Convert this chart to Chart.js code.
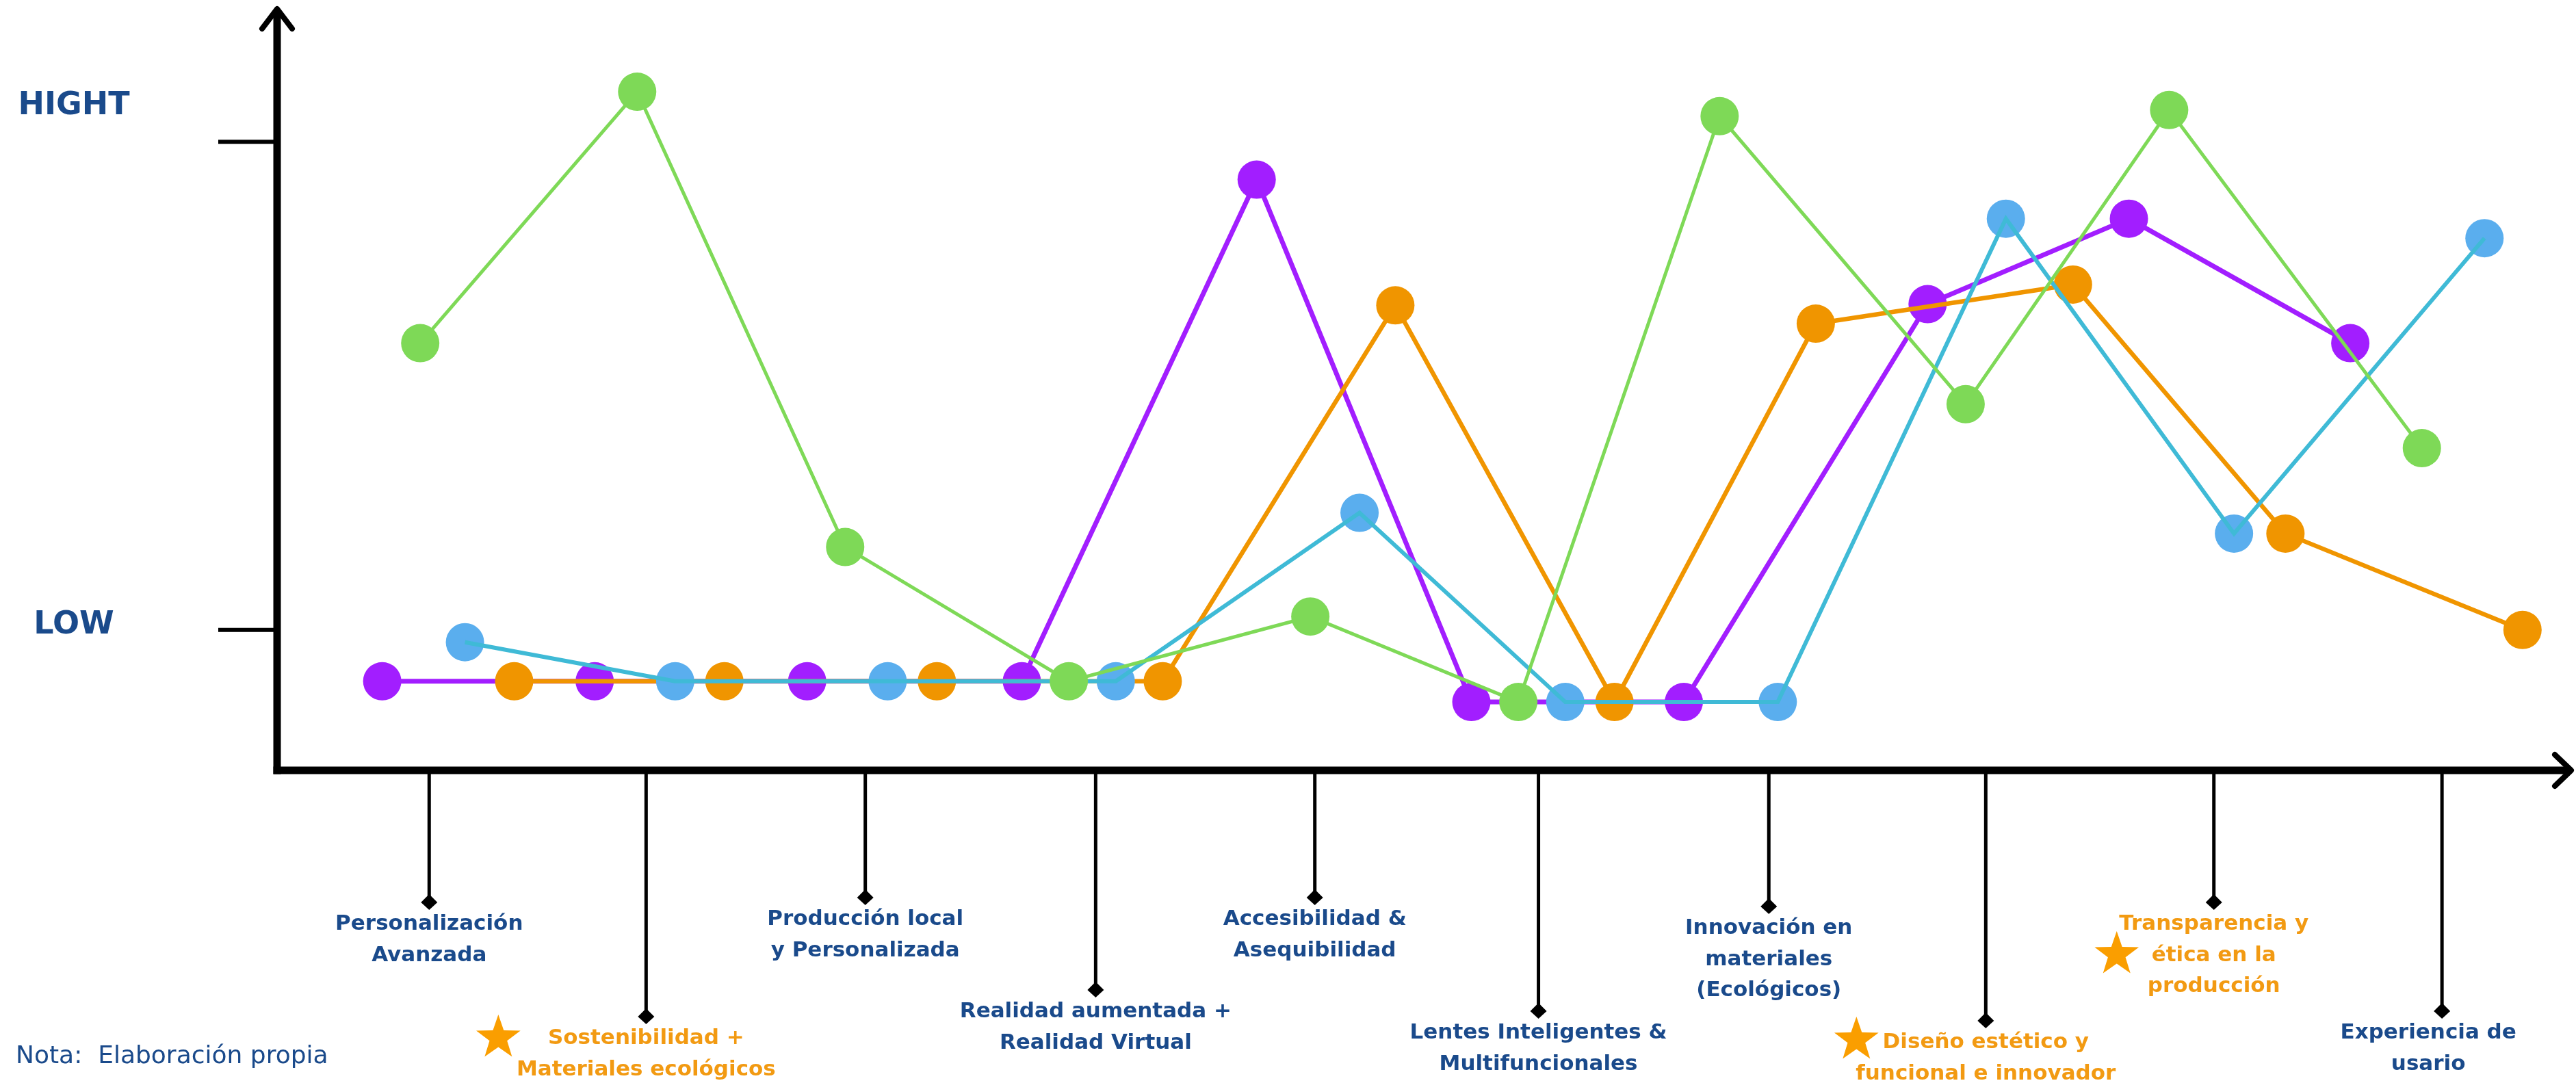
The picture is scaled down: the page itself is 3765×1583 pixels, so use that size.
<!DOCTYPE html>
<html lang="es">
<head>
<meta charset="utf-8">
<script src="https://cdn.jsdelivr.net/npm/chart.js@4.4.1/dist/chart.umd.min.js"></script>
<style>
  html, body { margin: 0; padding: 0; background: #ffffff; }
  #wrap { width: 3765px; height: 1583px; }
</style>
</head>
<body>
<div id="wrap"><canvas id="chart" width="3765" height="1583"></canvas></div>
<script>
// ---- Data -------------------------------------------------------------
const categories = [
  ['Personalización', 'Avanzada'],
  ['Sostenibilidad +', 'Materiales ecológicos'],
  ['Producción local', 'y Personalizada'],
  ['Realidad aumentada +', 'Realidad Virtual'],
  ['Accesibilidad &', 'Asequibilidad'],
  ['Lentes Inteligentes &', 'Multifuncionales'],
  ['Innovación en', 'materiales', '(Ecológicos)'],
  ['Diseño estético y', 'funcional e innovador'],
  ['Transparencia y', 'ética en la', 'producción'],
  ['Experiencia de', 'usario']
];
// position of each category on the x axis
const categoryX = [1.03, 2.00, 2.98, 4.01, 4.99, 5.99, 7.02, 7.99, 9.01, 10.03];
// categories marked with a star
const starred = [1, 7, 8];

const yTickValues = [1, 5];
const yTickLabels = ['LOW', 'HIGHT'];

const greenX  = [0.99, 1.96, 2.89, 3.89, 4.97, 5.90, 6.80, 7.90, 8.81, 9.94];
const greenY  = [3.35, 5.41, 1.68, 0.58, 1.11, 0.41, 5.21, 2.85, 5.26, 2.49];

const purpleX = [0.82, 1.77, 2.72, 3.68, 4.73, 5.69, 6.64, 7.73, 8.63, 9.62];
const purpleY = [0.58, 0.58, 0.58, 0.58, 4.69, 0.41, 0.41, 3.67, 4.37, 3.35];

const orangeX = [1.41, 2.35, 3.30, 4.31, 5.35, 6.33, 7.23, 8.38, 9.33, 10.39];
const orangeY = [0.58, 0.58, 0.58, 0.58, 3.66, 0.41, 3.51, 3.83, 1.79, 1.00];

const blueX   = [1.19, 2.13, 3.08, 4.10, 5.19, 6.11, 7.06, 8.08, 9.10, 10.22];
const blueY   = [0.90, 0.58, 0.58, 0.58, 1.96, 0.41, 0.41, 4.37, 1.79, 4.21];

// ---- Look & layout ------------------------------------------------------
const INK = '#000000';
const LABEL_BLUE = '#1a4a8b';
const LABEL_ORANGE = '#f29a12';
const STAR_ORANGE = '#fa9e00';

// stem depth below the x axis (px) for each category label
const stemDepth = [204, 371, 197, 332, 197, 363, 210, 377, 204, 363];
// horizontal nudge of a label block relative to its stem
const labelShift = [0, 0, 0, 0, 0, 0, 0, 0, 0, -20];
// star centre relative to stem x and first text baseline
const starOffset = { 1: [-216, -9], 7: [-189, -12], 8: [-142, 36] };
// vertical nudge of the y-axis words relative to their tick
const yLabelNudge = [5, -40];

const pts = (xs, ys) => xs.map((x, i) => ({ x: x, y: ys[i] }));

function drawStar(ctx, cx, cy, R, r) {
  ctx.beginPath();
  for (let i = 0; i < 10; i++) {
    const rad = i % 2 === 0 ? R : r;
    const a = -Math.PI / 2 + i * Math.PI / 5;
    const px = cx + rad * Math.cos(a);
    const py = cy + rad * Math.sin(a);
    if (i === 0) ctx.moveTo(px, py); else ctx.lineTo(px, py);
  }
  ctx.closePath();
  ctx.fill();
}

// Axes with arrows, y ticks with words, and hanging category labels
const axisDecor = {
  id: 'axisDecor',
  beforeDatasetsDraw(chart) {
    const { ctx, chartArea: a, scales: { x, y } } = chart;
    const x0 = a.left, y0 = a.bottom;
    ctx.save();
    ctx.strokeStyle = INK;
    ctx.fillStyle = INK;

    // main axis lines
    ctx.lineCap = 'butt';
    ctx.lineWidth = 11;
    ctx.beginPath();
    ctx.moveTo(x0, y0 + 5.5);
    ctx.lineTo(x0, a.top + 4);
    ctx.stroke();
    ctx.beginPath();
    ctx.moveTo(x0 - 5.5, y0);
    ctx.lineTo(a.right - 4, y0);
    ctx.stroke();

    // arrow heads
    ctx.lineWidth = 8;
    ctx.lineCap = 'round';
    ctx.lineJoin = 'round';
    ctx.beginPath();
    ctx.moveTo(x0 - 22, a.top + 31);
    ctx.lineTo(x0, a.top + 2);
    ctx.lineTo(x0 + 22, a.top + 31);
    ctx.stroke();
    ctx.beginPath();
    ctx.moveTo(a.right - 28, y0 - 23);
    ctx.lineTo(a.right - 4, y0);
    ctx.lineTo(a.right - 28, y0 + 23);
    ctx.stroke();

    // y ticks and their words
    ctx.lineCap = 'butt';
    ctx.lineWidth = 6;
    ctx.font = 'bold 46px "DejaVu Sans"';
    ctx.textAlign = 'center';
    ctx.textBaseline = 'alphabetic';
    yTickValues.forEach((v, i) => {
      const py = y.getPixelForValue(v);
      ctx.strokeStyle = INK;
      ctx.beginPath();
      ctx.moveTo(x0 - 86, py);
      ctx.lineTo(x0, py);
      ctx.stroke();
      ctx.fillStyle = LABEL_BLUE;
      ctx.fillText(yTickLabels[i], 108, py + yLabelNudge[i]);
    });

    // category stems, diamonds, labels and stars
    categories.forEach((lines, i) => {
      const px = x.getPixelForValue(categoryX[i]);
      const tip = y0 + stemDepth[i];
      ctx.strokeStyle = INK;
      ctx.fillStyle = INK;
      ctx.lineWidth = 5;
      ctx.beginPath();
      ctx.moveTo(px, y0);
      ctx.lineTo(px, tip - 12);
      ctx.stroke();
      ctx.beginPath();
      ctx.moveTo(px, tip);
      ctx.lineTo(px - 12, tip - 11);
      ctx.lineTo(px, tip - 23);
      ctx.lineTo(px + 12, tip - 11);
      ctx.closePath();
      ctx.fill();

      const isStar = starred.includes(i);
      ctx.fillStyle = isStar ? LABEL_ORANGE : LABEL_BLUE;
      ctx.font = 'bold 31px "DejaVu Sans"';
      ctx.textAlign = 'center';
      const base = tip + 29;
      lines.forEach((t, k) => {
        ctx.fillText(t, px + labelShift[i], base + k * 45.5);
      });
      if (isStar) {
        const [dx, dy] = starOffset[i];
        ctx.fillStyle = STAR_ORANGE;
        drawStar(ctx, px + dx, base + dy, 34, 13.5);
      }
    });

    // source note
    ctx.fillStyle = LABEL_BLUE;
    ctx.font = '36px "DejaVu Sans"';
    ctx.textAlign = 'left';
    ctx.fillText('Nota:  Elaboración propia', 23, 1554);
    ctx.restore();
  }
};

const series = (label, xs, ys, line, dot, width, order) => ({
  label: label,
  data: pts(xs, ys),
  borderColor: line,
  backgroundColor: dot,
  borderWidth: width,
  pointRadius: 28,
  pointHoverRadius: 28,
  pointBackgroundColor: dot,
  pointBorderWidth: 0,
  showLine: true,
  tension: 0,
  clip: false,
  order: order
});

new Chart(document.getElementById('chart'), {
  type: 'line',
  data: {
    datasets: [
      series('Verde', greenX, greenY, '#7ed957', '#7ed957', 5, 0),
      // blue series: cyan line laid over its light-blue dots
      Object.assign(series('Azul', blueX, blueY, '#3fbad6', '#3fbad6', 6, 1), { pointRadius: 0, pointHoverRadius: 0 }),
      Object.assign(series('Azul (puntos)', blueX, blueY, '#5aaeee', '#5aaeee', 0, 2), { showLine: false }),
      series('Naranja', orangeX, orangeY, '#f09500', '#f09500', 6.5, 3),
      series('Morado', purpleX, purpleY, '#a21eff', '#a21eff', 7, 4)
    ]
  },
  options: {
    responsive: false,
    animation: false,
    devicePixelRatio: 1,
    layout: { autoPadding: false, padding: { left: 405, right: 3, top: 11, bottom: 457 } },
    scales: {
      x: { type: 'linear', min: 0.35, max: 10.62, display: false },
      y: { type: 'linear', min: -0.15, max: 6.1, display: false }
    },
    plugins: { legend: { display: false }, tooltip: { enabled: false } },
    events: []
  },
  plugins: [axisDecor]
});
</script>
</body>
</html>
